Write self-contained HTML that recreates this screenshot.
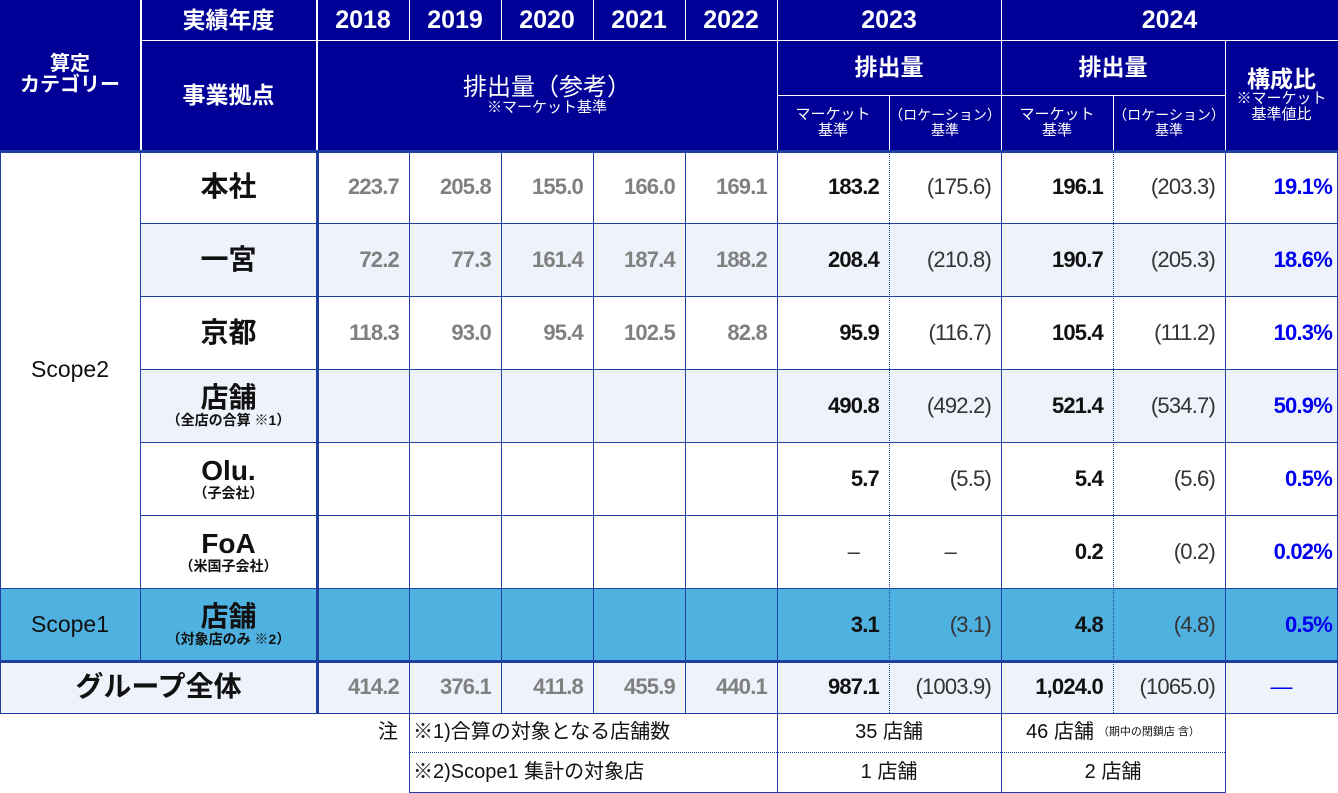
<!DOCTYPE html>
<html><head><meta charset="utf-8">
<style>
*{margin:0;padding:0;box-sizing:border-box}
body{width:1338px;height:793px;position:relative;background:#fff;overflow:hidden;font-family:"Liberation Sans","Noto Sans CJK JP",sans-serif}
.c{position:absolute;display:flex;flex-direction:column;align-items:center;justify-content:center;text-align:center;line-height:1.05}
.h{color:#fff}
.r{align-items:flex-end;padding-right:10px}
.l{position:absolute;background:#1d3fa0}
.w{position:absolute;background:#fff}
.d{position:absolute;border-left:1px dotted #1d3fa0;width:0}
.n{font-family:"Liberation Sans Narrow","Liberation Sans",sans-serif;font-weight:bold;font-size:22px;letter-spacing:-0.8px}
.g{color:#808080}
.k{color:#111}
.p{font-family:"Liberation Sans Narrow","Liberation Sans",sans-serif;font-size:22px;color:#333;letter-spacing:-0.8px}
.b{color:#0000f0}
.nm{font-size:28px;font-weight:bold;color:#111}
.sm{font-size:14px;font-weight:bold;color:#111}
</style></head><body>
<div style="position:absolute;left:0;top:0;width:1338px;height:150px;background:#000096"></div>
<div style="position:absolute;left:140px;top:223px;width:1198px;height:73px;background:#eef3fb"></div>
<div style="position:absolute;left:140px;top:369px;width:1198px;height:73px;background:#eef3fb"></div>
<div style="position:absolute;left:0;top:588px;width:1338px;height:73px;background:#4fb1df"></div>
<div style="position:absolute;left:0;top:661px;width:1338px;height:52px;background:#eef3fb"></div>

<div class="w" style="left:140px;top:0;width:2px;height:150px"></div>
<div class="w" style="left:316px;top:0;width:2px;height:150px"></div>
<div class="w" style="left:409px;top:0;width:1px;height:40px"></div>
<div class="w" style="left:501px;top:0;width:1px;height:40px"></div>
<div class="w" style="left:593px;top:0;width:1px;height:40px"></div>
<div class="w" style="left:685px;top:0;width:1px;height:40px"></div>
<div class="w" style="left:777px;top:0;width:1px;height:150px"></div>
<div class="w" style="left:1001px;top:0;width:1px;height:150px"></div>
<div class="w" style="left:1225px;top:40px;width:1px;height:110px"></div>
<div class="w" style="left:889px;top:95px;width:1px;height:55px"></div>
<div class="w" style="left:1113px;top:95px;width:1px;height:55px"></div>
<div class="w" style="left:140px;top:40px;width:1198px;height:1px"></div>
<div class="w" style="left:777px;top:95px;width:448px;height:1px"></div>

<div class="c h" style="left:0;top:0;width:140px;height:150px;font-size:20px;font-weight:bold">算定<br>カテゴリー</div>
<div class="c h" style="left:140px;top:0;width:177px;height:40px;font-size:23px;font-weight:bold">実績年度</div>
<div class="c h" style="left:140px;top:40px;width:177px;height:110px;font-size:23px;font-weight:bold">事業拠点</div>
<div class="c h" style="left:317px;top:0;width:92px;height:40px;font-size:25px;font-weight:bold">2018</div>
<div class="c h" style="left:409px;top:0;width:92px;height:40px;font-size:25px;font-weight:bold">2019</div>
<div class="c h" style="left:501px;top:0;width:92px;height:40px;font-size:25px;font-weight:bold">2020</div>
<div class="c h" style="left:593px;top:0;width:92px;height:40px;font-size:25px;font-weight:bold">2021</div>
<div class="c h" style="left:685px;top:0;width:92px;height:40px;font-size:25px;font-weight:bold">2022</div>
<div class="c h" style="left:777px;top:0;width:224px;height:40px;font-size:25px;font-weight:bold">2023</div>
<div class="c h" style="left:1001px;top:0;width:337px;height:40px;font-size:25px;font-weight:bold">2024</div>
<div class="c h" style="left:317px;top:40px;width:460px;height:110px;font-size:24px">排出量（参考）<span style="font-size:15px">※マーケット基準</span></div>
<div class="c h" style="left:777px;top:40px;width:224px;height:55px;font-size:23px;font-weight:bold">排出量</div>
<div class="c h" style="left:1001px;top:40px;width:224px;height:55px;font-size:23px;font-weight:bold">排出量</div>
<div class="c h" style="left:1225px;top:40px;width:113px;height:110px;font-size:23px;font-weight:bold">構成比<span style="font-size:15px;font-weight:normal">※マーケット<br>基準値比</span></div>
<div class="c h" style="left:777px;top:95px;width:112px;height:55px;font-size:15px">マーケット<br>基準</div>
<div class="c h" style="left:889px;top:95px;width:112px;height:55px;font-size:14px">（ロケーション）<br>基準</div>
<div class="c h" style="left:1001px;top:95px;width:112px;height:55px;font-size:15px">マーケット<br>基準</div>
<div class="c h" style="left:1113px;top:95px;width:112px;height:55px;font-size:14px">（ロケーション）<br>基準</div>

<div class="l" style="left:0;top:150px;width:1338px;height:3px"></div>
<div class="l" style="left:140px;top:223px;width:1198px;height:1px"></div>
<div class="l" style="left:140px;top:296px;width:1198px;height:1px"></div>
<div class="l" style="left:140px;top:369px;width:1198px;height:1px"></div>
<div class="l" style="left:140px;top:442px;width:1198px;height:1px"></div>
<div class="l" style="left:140px;top:515px;width:1198px;height:1px"></div>
<div class="l" style="left:0;top:588px;width:1338px;height:1px"></div>
<div class="l" style="left:0;top:660px;width:1338px;height:3px"></div>
<div class="l" style="left:0;top:713px;width:1338px;height:1px"></div>
<div class="l" style="left:0;top:150px;width:1px;height:564px"></div>
<div class="l" style="left:1337px;top:150px;width:1px;height:564px"></div>
<div class="l" style="left:140px;top:150px;width:1px;height:511px"></div>
<div class="l" style="left:316px;top:150px;width:3px;height:564px"></div>
<div class="l" style="left:409px;top:150px;width:1px;height:643px"></div>
<div class="l" style="left:501px;top:150px;width:1px;height:564px"></div>
<div class="l" style="left:593px;top:150px;width:1px;height:564px"></div>
<div class="l" style="left:685px;top:150px;width:1px;height:564px"></div>
<div class="l" style="left:777px;top:150px;width:1px;height:643px"></div>
<div class="d" style="left:889px;top:150px;height:563px"></div>
<div class="l" style="left:1001px;top:150px;width:1px;height:643px"></div>
<div class="d" style="left:1113px;top:150px;height:563px"></div>
<div class="l" style="left:1225px;top:150px;width:1px;height:643px"></div>
<div style="position:absolute;left:409px;top:752px;width:816px;border-top:1px dotted #1d3fa0"></div>
<div class="l" style="left:409px;top:792px;width:817px;height:1px"></div>

<div class="c" style="left:0;top:150px;width:140px;height:438px;font-size:23px;color:#111">Scope2</div>
<div class="c" style="left:0;top:588px;width:140px;height:73px;font-size:23px;color:#111">Scope1</div>
<div class="c nm" style="left:0;top:661px;width:317px;height:52px">グループ全体</div>
<div class="c nm" style="left:140px;top:150px;width:177px;height:73px">本社</div>
<div class="c nm" style="left:140px;top:223px;width:177px;height:73px">一宮</div>
<div class="c nm" style="left:140px;top:296px;width:177px;height:73px">京都</div>
<div class="c nm" style="left:140px;top:369px;width:177px;height:73px">店舗<span class="sm">（全店の合算 ※1）</span></div>
<div class="c nm" style="left:140px;top:442px;width:177px;height:73px">Olu.<span class="sm">（子会社）</span></div>
<div class="c nm" style="left:140px;top:515px;width:177px;height:73px">FoA<span class="sm">（米国子会社）</span></div>
<div class="c nm" style="left:140px;top:588px;width:177px;height:73px">店舗<span class="sm">（対象店のみ ※2）</span></div>

<div class="c r n g" style="left:317px;top:150px;width:92px;height:73px">223.7</div>
<div class="c r n g" style="left:409px;top:150px;width:92px;height:73px">205.8</div>
<div class="c r n g" style="left:501px;top:150px;width:92px;height:73px">155.0</div>
<div class="c r n g" style="left:593px;top:150px;width:92px;height:73px">166.0</div>
<div class="c r n g" style="left:685px;top:150px;width:92px;height:73px">169.1</div>
<div class="c r n k" style="left:777px;top:150px;width:112px;height:73px">183.2</div>
<div class="c r p" style="left:889px;top:150px;width:112px;height:73px">(175.6)</div>
<div class="c r n k" style="left:1001px;top:150px;width:112px;height:73px">196.1</div>
<div class="c r p" style="left:1113px;top:150px;width:112px;height:73px">(203.3)</div>
<div class="c r n b" style="left:1225px;top:150px;width:113px;height:73px;padding-right:6px">19.1%</div>
<div class="c r n g" style="left:317px;top:223px;width:92px;height:73px">72.2</div>
<div class="c r n g" style="left:409px;top:223px;width:92px;height:73px">77.3</div>
<div class="c r n g" style="left:501px;top:223px;width:92px;height:73px">161.4</div>
<div class="c r n g" style="left:593px;top:223px;width:92px;height:73px">187.4</div>
<div class="c r n g" style="left:685px;top:223px;width:92px;height:73px">188.2</div>
<div class="c r n k" style="left:777px;top:223px;width:112px;height:73px">208.4</div>
<div class="c r p" style="left:889px;top:223px;width:112px;height:73px">(210.8)</div>
<div class="c r n k" style="left:1001px;top:223px;width:112px;height:73px">190.7</div>
<div class="c r p" style="left:1113px;top:223px;width:112px;height:73px">(205.3)</div>
<div class="c r n b" style="left:1225px;top:223px;width:113px;height:73px;padding-right:6px">18.6%</div>
<div class="c r n g" style="left:317px;top:296px;width:92px;height:73px">118.3</div>
<div class="c r n g" style="left:409px;top:296px;width:92px;height:73px">93.0</div>
<div class="c r n g" style="left:501px;top:296px;width:92px;height:73px">95.4</div>
<div class="c r n g" style="left:593px;top:296px;width:92px;height:73px">102.5</div>
<div class="c r n g" style="left:685px;top:296px;width:92px;height:73px">82.8</div>
<div class="c r n k" style="left:777px;top:296px;width:112px;height:73px">95.9</div>
<div class="c r p" style="left:889px;top:296px;width:112px;height:73px">(116.7)</div>
<div class="c r n k" style="left:1001px;top:296px;width:112px;height:73px">105.4</div>
<div class="c r p" style="left:1113px;top:296px;width:112px;height:73px">(111.2)</div>
<div class="c r n b" style="left:1225px;top:296px;width:113px;height:73px;padding-right:6px">10.3%</div>
<div class="c r n k" style="left:777px;top:369px;width:112px;height:73px">490.8</div>
<div class="c r p" style="left:889px;top:369px;width:112px;height:73px">(492.2)</div>
<div class="c r n k" style="left:1001px;top:369px;width:112px;height:73px">521.4</div>
<div class="c r p" style="left:1113px;top:369px;width:112px;height:73px">(534.7)</div>
<div class="c r n b" style="left:1225px;top:369px;width:113px;height:73px;padding-right:6px">50.9%</div>
<div class="c r n k" style="left:777px;top:442px;width:112px;height:73px">5.7</div>
<div class="c r p" style="left:889px;top:442px;width:112px;height:73px">(5.5)</div>
<div class="c r n k" style="left:1001px;top:442px;width:112px;height:73px">5.4</div>
<div class="c r p" style="left:1113px;top:442px;width:112px;height:73px">(5.6)</div>
<div class="c r n b" style="left:1225px;top:442px;width:113px;height:73px;padding-right:6px">0.5%</div>
<div class="c r p" style="left:777px;top:515px;width:112px;height:73px;padding-right:30px">–</div>
<div class="c r p" style="left:889px;top:515px;width:112px;height:73px;padding-right:45px">–</div>
<div class="c r n k" style="left:1001px;top:515px;width:112px;height:73px">0.2</div>
<div class="c r p" style="left:1113px;top:515px;width:112px;height:73px">(0.2)</div>
<div class="c r n b" style="left:1225px;top:515px;width:113px;height:73px;padding-right:6px">0.02%</div>
<div class="c r n k" style="left:777px;top:588px;width:112px;height:73px">3.1</div>
<div class="c r p" style="left:889px;top:588px;width:112px;height:73px">(3.1)</div>
<div class="c r n k" style="left:1001px;top:588px;width:112px;height:73px">4.8</div>
<div class="c r p" style="left:1113px;top:588px;width:112px;height:73px">(4.8)</div>
<div class="c r n b" style="left:1225px;top:588px;width:113px;height:73px;padding-right:6px">0.5%</div>
<div class="c r n g" style="left:317px;top:661px;width:92px;height:52px">414.2</div>
<div class="c r n g" style="left:409px;top:661px;width:92px;height:52px">376.1</div>
<div class="c r n g" style="left:501px;top:661px;width:92px;height:52px">411.8</div>
<div class="c r n g" style="left:593px;top:661px;width:92px;height:52px">455.9</div>
<div class="c r n g" style="left:685px;top:661px;width:92px;height:52px">440.1</div>
<div class="c r n k" style="left:777px;top:661px;width:112px;height:52px">987.1</div>
<div class="c r p" style="left:889px;top:661px;width:112px;height:52px">(1003.9)</div>
<div class="c r n k" style="left:1001px;top:661px;width:112px;height:52px">1,024.0</div>
<div class="c r p" style="left:1113px;top:661px;width:112px;height:52px">(1065.0)</div>
<div class="c b" style="left:1225px;top:661px;width:113px;height:52px;font-size:22px">—</div>

<div class="c" style="left:370px;top:713px;width:36px;height:39px;font-size:20px;color:#111">注</div>
<div class="c" style="left:413px;top:713px;width:364px;height:39px;font-size:20px;color:#111;align-items:flex-start">※1)合算の対象となる店舗数</div>
<div class="c" style="left:413px;top:752px;width:364px;height:40px;font-size:20px;color:#111;align-items:flex-start">※2)Scope1 集計の対象店</div>
<div class="c" style="left:777px;top:713px;width:224px;height:39px;font-size:20px;color:#111">35 店舗</div>
<div class="c" style="left:777px;top:752px;width:224px;height:40px;font-size:20px;color:#111">1 店舗</div>
<div class="c" style="left:1001px;top:713px;width:224px;height:39px;font-size:20px;color:#111;flex-direction:row">46 店舗<span style="font-size:11px;margin-left:4px">（期中の閉鎖店 含）</span></div>
<div class="c" style="left:1001px;top:752px;width:224px;height:40px;font-size:20px;color:#111">2 店舗</div>
</body></html>
